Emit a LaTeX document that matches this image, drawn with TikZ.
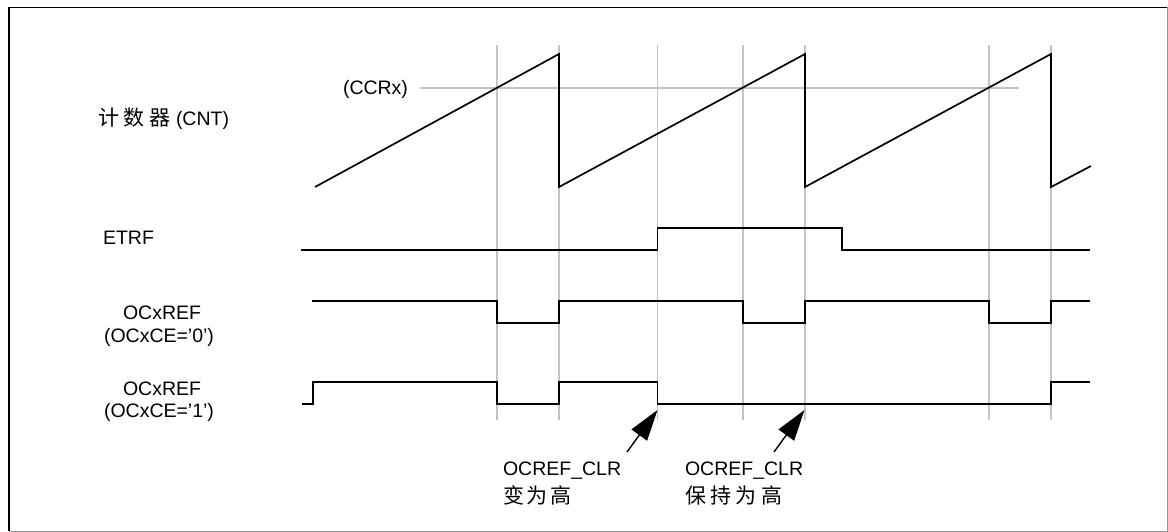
\documentclass[tikz,border=0pt]{standalone}
\usepackage{fontspec}
\setmainfont{Liberation Sans}
\newfontfamily\cjkfont{Noto Sans CJK SC}
\usetikzlibrary{arrows.meta}
\definecolor{gridgray}{RGB}{195,195,195}
\definecolor{framegray}{RGB}{150,150,150}
\newcommand{\zhtext}[1]{{\fontsize{21}{24}\selectfont\cjkfont #1}}
\begin{document}
\begin{tikzpicture}[x=1pt,y=-1pt,
  lbl/.style={font=\fontsize{19.5}{23}\selectfont, inner sep=0pt, outer sep=0pt},
  grid/.style={draw=gridgray, line width=1.2pt},
  wave/.style={draw=black, line width=1.9pt, line join=miter},
  saw/.style={draw=black, line width=1.7pt, line join=miter},
  pointer/.style={draw=black, line width=1.4pt, -{Triangle[length=31pt,width=19pt]}}]
\useasboundingbox (0,0) rectangle (1168,532);
% frame
\draw[framegray, line width=1pt] (1167,7.5) -- (1167,531) -- (9,531);
\draw[black, line width=1.5pt] (9,531) -- (9,7.5) -- (1167,7.5);
% grid lines
\foreach \gx in {497,559,657.5,743,805,989,1051}
  \draw[grid] (\gx,45) -- (\gx,420);
% CCRx level
\draw[grid] (420,88) -- (1019,88);
% counter sawtooth
\draw[saw] (315,187) -- (559,54) -- (559,187) -- (805,54) -- (805,187) -- (1051,54) -- (1051,187) -- (1091,166);
% ETRF
\draw[wave] (301,250) -- (657.5,250) -- (657.5,228) -- (842,228) -- (842,250) -- (1090,250);
% OCxREF (OCxCE='0')
\draw[wave] (312,301) -- (497,301) -- (497,323) -- (559,323) -- (559,301) -- (743,301) -- (743,323) -- (805,323) -- (805,301) -- (989,301) -- (989,323) -- (1051,323) -- (1051,301) -- (1090,301);
% OCxREF (OCxCE='1')
\draw[wave] (302,404) -- (313,404) -- (313,382) -- (497,382) -- (497,404) -- (559,404) -- (559,382) -- (657.5,382) -- (657.5,404) -- (1051,404) -- (1051,382) -- (1090,382);
% labels
\node[lbl, anchor=base west] (cnt) at (98,126) {\zhtext{计\hspace{5pt}数\hspace{5pt}器}\hspace{5pt}(CNT)};
\node[lbl, anchor=base] (ccr) at (375.5,95) {(CCRx)};
\node[lbl, anchor=base west] (etrf) at (103,244) {ETRF};
\node[lbl, anchor=base] (ref0a) at (162,319) {OCxREF};
\node[lbl, anchor=base] (ref0b) at (159,342) {(OCxCE=’0’)};
\node[lbl, anchor=base] (ref1a) at (162,395) {OCxREF};
\node[lbl, anchor=base] (ref1b) at (159,417) {(OCxCE=’1’)};
\node[lbl, anchor=base west] (clrA) at (503,475) {OCREF\_CLR};
\node[lbl, anchor=base west] (clrAz) at (503,503) {\zhtext{变\hspace{2.5pt}为\hspace{2.5pt}高}};
\node[lbl, anchor=base west] (clrB) at (685,475) {OCREF\_CLR};
\node[lbl, anchor=base west] (clrBz) at (685,503) {\zhtext{保\hspace{4.5pt}持\hspace{4.5pt}为\hspace{4.5pt}高}};
% arrows
\coordinate (tailA) at (627,452);
\coordinate (tipA) at (657.5,410);
\coordinate (tailB) at (774,452);
\coordinate (tipB) at (804.5,410);
\draw[pointer] (tailA) -- (tipA);
\draw[pointer] (tailB) -- (tipB);
\end{tikzpicture}
\end{document}
